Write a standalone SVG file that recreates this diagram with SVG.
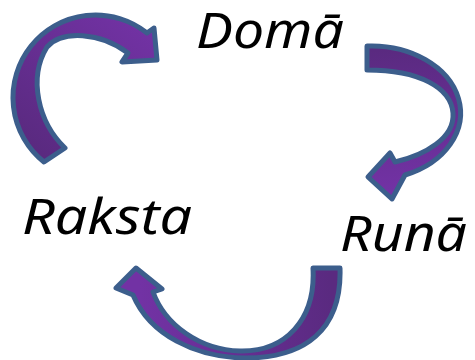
<svg xmlns="http://www.w3.org/2000/svg" width="475" height="360" viewBox="0 0 475 360">
<style>
.arrow{stroke:#3C5E8C;stroke-width:5;stroke-linejoin:round}
.lbl{font-family:"Noto Sans","Open Sans",sans-serif;font-style:italic;font-size:49px;fill:#000}
</style>
<defs>
<linearGradient id="g1" gradientUnits="userSpaceOnUse" x1="50" y1="160" x2="150" y2="30"><stop offset="0" stop-color="#5A2A80"/><stop offset="1" stop-color="#7232A4"/></linearGradient>
<linearGradient id="g2" gradientUnits="userSpaceOnUse" x1="380" y1="50" x2="390" y2="190"><stop offset="0" stop-color="#5A2A80"/><stop offset="1" stop-color="#7232A4"/></linearGradient>
<linearGradient id="g3" gradientUnits="userSpaceOnUse" x1="330" y1="280" x2="140" y2="290"><stop offset="0" stop-color="#5A2A80"/><stop offset="1" stop-color="#7232A4"/></linearGradient>
</defs>
<g id="connectors">
<path id="arrow-raksta-doma" class="arrow" fill="url(#g1)" d="M44,162 L65,148 C38,122 28,78 47,47 C62,30 100,32 128,53 L122,62 L157,60 L154,28 L147,33 A82,82 0 0 0 44,162 Z"/>
<path id="arrow-doma-runa" class="arrow" fill="url(#g2)" d="M367,46 A89,67 0 0 1 405,175 L392,199 L368,177 L390,153 L395,162 C425,155 455,138 453,113 C451,88 420,70 367,70 Z"/>
<path id="arrow-runa-raksta" class="arrow" fill="url(#g3)" d="M340,268 C342,330 305,358 245,358 C195,357 150,335 133,295 L116,288 L136,268 L162,289 L153,292 C165,325 200,350 240,351 C285,352 316,320 313,268 Z"/>
</g>
<g id="node-doma"><text class="lbl" x="196" y="48" textLength="148" lengthAdjust="spacingAndGlyphs">Domā</text></g>
<g id="node-raksta"><text class="lbl" x="22" y="234" textLength="170" lengthAdjust="spacingAndGlyphs">Raksta</text></g>
<g id="node-runa"><text class="lbl" x="340" y="251" textLength="127" lengthAdjust="spacingAndGlyphs">Runā</text></g>
</svg>
